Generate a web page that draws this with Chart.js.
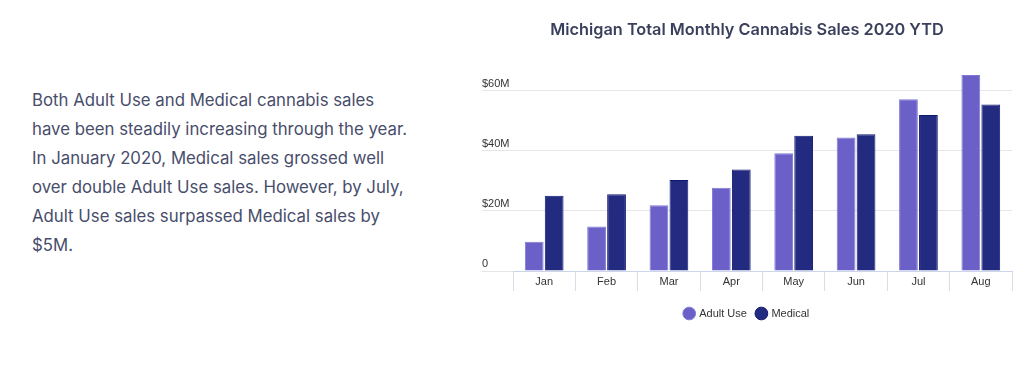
<!DOCTYPE html>
<html>
<head>
<meta charset="utf-8">
<script src="https://cdn.jsdelivr.net/npm/chart.js@4.4.1/dist/chart.umd.min.js"></script>
<style>
  html, body { margin: 0; padding: 0; background: #fff; }
  body { width: 1024px; height: 366px; position: relative; overflow: hidden; }
  #blurb {
    position: absolute; left: 32px; top: 86px;
    font-family: Inter, sans-serif; font-size: 16.8px; line-height: 29px;
    color: #474d6b; margin: 0;
  }
  #chartBox { position: absolute; left: 470px; top: 0; width: 554px; height: 366px; }
</style>
</head>
<body>
<p id="blurb">Both Adult Use and Medical cannabis sales<br>have been steadily increasing through the year.<br>In January 2020, Medical sales grossed well<br>over double Adult Use sales. However, by July,<br>Adult Use sales surpassed Medical sales by<br>$5M.</p>
<div id="chartBox"><canvas id="salesChart"></canvas></div>
<script>
// monthly sales in $M
const months = ['Jan', 'Feb', 'Mar', 'Apr', 'May', 'Jun', 'Jul', 'Aug'];
const adultUse = [9.7, 14.8, 21.9, 27.7, 39.2, 44.4, 57.1, 65.2];
const medical = [25.0, 25.5, 30.3, 33.8, 45.0, 45.5, 51.9, 55.4];
const yTicks = [0, 20, 40, 60];

const axisFont = { family: 'Liberation Sans, Arial, sans-serif', size: 11 };

new Chart(document.getElementById('salesChart'), {
    type: 'bar',
    data: {
        labels: months,
        datasets: [
            {
                label: 'Adult Use',
                data: adultUse,
                backgroundColor: '#6a60c8',
                borderColor: '#8079d4',
                borderWidth: 1
            },
            {
                label: 'Medical',
                data: medical,
                backgroundColor: '#232b80',
                borderColor: '#121870',
                borderWidth: 1
            }
        ]
    },
    options: {
        responsive: true,
        maintainAspectRatio: false,
        animation: false,
        categoryPercentage: 0.64,
        barPercentage: 0.94,
        layout: { padding: { left: 12, right: 12, top: 0, bottom: 37 } },
        plugins: {
            title: {
                display: true,
                text: 'Michigan Total Monthly Cannabis Sales 2020 YTD',
                color: '#3a3f5c',
                font: { family: 'Inter, sans-serif', size: 16.3, weight: '600' },
                padding: { top: 20, bottom: 27 }
            },
            legend: {
                position: 'bottom',
                labels: {
                    usePointStyle: true,
                    pointStyle: 'circle',
                    boxWidth: 9,
                    boxHeight: 9,
                    padding: 10,
                    color: '#333',
                    font: axisFont
                }
            },
            tooltip: { enabled: false }
        },
        scales: {
            x: {
                grid: {
                    offset: true,
                    drawOnChartArea: false,
                    tickLength: 20,
                    color: '#d8dde8'
                },
                border: { color: '#ccd6eb' },
                ticks: { color: '#333', font: axisFont, padding: -16 },
                afterFit: scale => { scale.height = 27; }
            },
            y: {
                min: 0,
                max: 68,
                afterBuildTicks: scale => {
                    scale.ticks = yTicks.map(v => ({ value: v }));
                },
                afterFit: scale => { scale.width = 31; },
                grid: { color: '#e6e6e6', tickLength: 31 },
                border: { display: false },
                ticks: {
                    color: '#333',
                    font: axisFont,
                    crossAlign: 'far',
                    padding: 0,
                    labelOffset: -7,
                    callback: v => v === 0 ? '0' : '$' + v + 'M'
                }
            }
        }
    }
});
</script>
</body>
</html>
